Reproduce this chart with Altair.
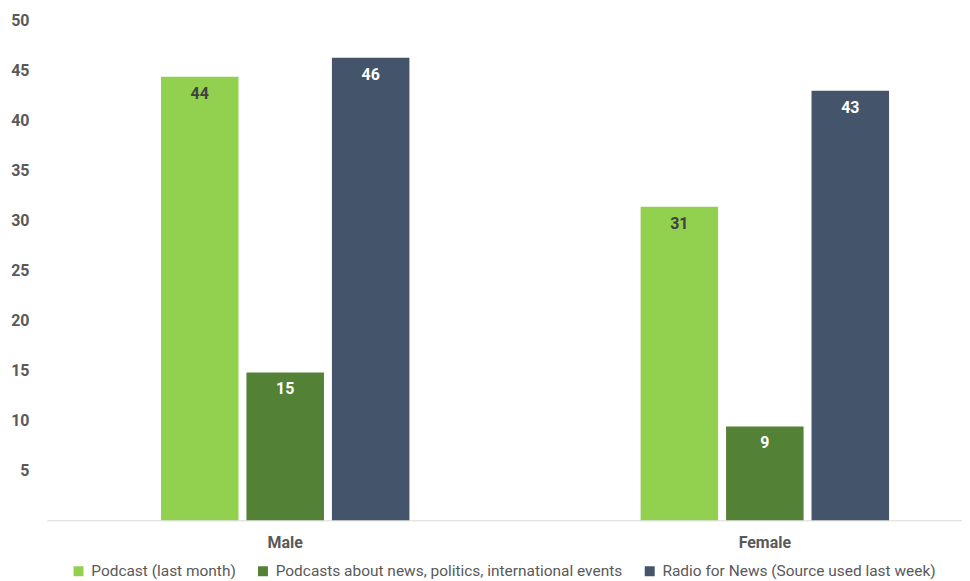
import altair as alt
import pandas as pd

genders = ["Male", "Female"]
series = [
    "Podcast (last month)",
    "Podcasts about news, politics, international events",
    "Radio for News (Source used last week)",
]
podcast = [44.4, 31.4]
news_podcasts = [14.8, 9.4]
radio_news = [46.3, 43.0]
colors = ["#92D050", "#538135", "#44546A"]
label_colors = ["#404040", "#FFFFFF", "#FFFFFF"]

rows = []
for s, vals, tc in zip(series, [podcast, news_podcasts, radio_news], label_colors):
    for g, v in zip(genders, vals):
        rows.append({"gender": g, "series": s, "value": v, "tc": tc})
df = pd.DataFrame(rows)

x = alt.X(
    "gender:N",
    sort=genders,
    scale=alt.Scale(paddingInner=0.482, paddingOuter=0.195, align=0.61),
    axis=alt.Axis(
        title=None, labelAngle=0, ticks=False, domain=True, domainColor="#d9d9d9",
        domainWidth=1, labelPadding=14, labelFontSize=16, labelFontWeight="bold",
        labelColor="#595959",
    ),
)
xo = alt.XOffset("series:N", sort=series, scale=alt.Scale(paddingInner=0.093, paddingOuter=0))
y = alt.Y(
    "value:Q",
    scale=alt.Scale(domain=[0, 50], nice=False),
    axis=alt.Axis(
        title=None, values=[5, 10, 15, 20, 25, 30, 35, 40, 45, 50], grid=False,
        domain=False, ticks=False, labelPadding=18, labelFontSize=16,
        labelFontWeight="bold", labelColor="#595959",
    ),
)

bars = alt.Chart(df).mark_bar().encode(
    x=x,
    xOffset=xo,
    y=y,
    color=alt.Color(
        "series:N",
        sort=series,
        scale=alt.Scale(domain=series, range=colors),
        legend=alt.Legend(
            title=None, orient="none", legendX=24, legendY=544, direction="horizontal",
            symbolType="square", symbolSize=100, symbolStrokeWidth=0,
            labelFontSize=15.5, labelColor="#595959", columnPadding=19, labelOffset=5,
            labelLimit=0,
        ),
    ),
)

labels = alt.Chart(df).mark_text(
    baseline="middle", dy=17, fontSize=16, fontWeight="bold"
).encode(
    x=x,
    xOffset=xo,
    y=y,
    text=alt.Text("value:Q", format=".0f"),
    color=alt.Color("tc:N", scale=None, legend=None),
)

chart = (
    alt.layer(bars, labels)
    .resolve_scale(color="independent")
    .properties(
        width=918,
        height=501,
        autosize=alt.AutoSizeParams(type="none"),
        padding={"left": 39, "top": 12, "right": 0, "bottom": 60},
    )
    .configure(font="Roboto")
    .configure_view(stroke=None)
)

chart.save("out.html", embed_options={"renderer": "svg", "actions": False})
